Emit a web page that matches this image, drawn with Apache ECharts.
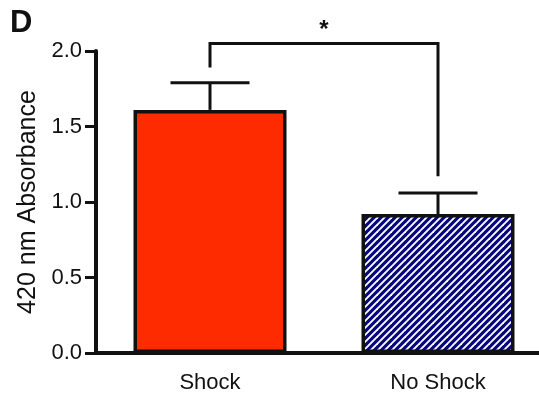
<!DOCTYPE html>
<html>
<head>
<meta charset="utf-8">
<script src="https://cdn.jsdelivr.net/npm/echarts@6/dist/echarts.min.js"></script>
<style>
  html, body { margin: 0; padding: 0; background: #fff; }
  #chart { width: 539px; height: 402px; }
</style>
</head>
<body>
<div id="chart"></div>
<script>
// Group names and measured absorbance at 420 nm
const categories = ['Shock', 'No Shock'];
const means = [1.61, 0.92];
const errorTops = [1.79, 1.06];

// Significance bracket: top height and where each leg stops
const bracketTop = 2.05;
const bracketLegEnds = [1.89, 1.17];
const bracketLabel = '*';

const yTicks = [0, 0.5, 1.0, 1.5, 2.0];

const FONT = '"Liberation Sans", Arial, Helvetica, sans-serif';
const INK = '#111';

// Navy fill with thin white diagonal stripes
function hatchPattern() {
  const s = 14;
  const c = document.createElement('canvas');
  c.width = s; c.height = s;
  const g = c.getContext('2d');
  g.fillStyle = '#07077e';
  g.fillRect(0, 0, s, s);
  g.strokeStyle = '#ffffff';
  g.lineWidth = 1.9;
  const half = s / 2;
  for (let k = -2; k <= 2; k++) {
    g.beginPath();
    g.moveTo(k * half - 2, s + 2);
    g.lineTo(k * half + s + 2, -2);
    g.stroke();
  }
  return c;
}

const chart = echarts.init(document.getElementById('chart'), null, { renderer: 'canvas' });

const option = {
  animation: false,
  backgroundColor: '#ffffff',
  grid: {
    left: 96, top: 51, width: 456, height: 302,
    containLabel: false, outerBoundsMode: 'none'
  },
  graphic: [{
    type: 'text', left: 10, top: 8,
    style: { text: 'D', font: 'bold 31px ' + FONT, fill: INK }
  }],
  xAxis: {
    type: 'category',
    data: categories,
    axisLine: { lineStyle: { color: INK, width: 4 } },
    axisTick: { alignWithLabel: true, length: 11, lineStyle: { color: INK, width: 3 } },
    axisLabel: { fontSize: 22, fontFamily: FONT, color: INK, margin: 19 },
    splitLine: { show: false }
  },
  yAxis: {
    type: 'value',
    min: yTicks[0], max: yTicks[yTicks.length - 1], interval: 0.5,
    name: '420 nm Absorbance',
    nameLocation: 'middle',
    nameGap: 51,
    nameTextStyle: { fontSize: 25, fontFamily: FONT, color: INK },
    axisLine: { show: true, lineStyle: { color: INK, width: 4 } },
    axisTick: { show: true, length: 11, lineStyle: { color: INK, width: 3 } },
    axisLabel: {
      fontSize: 22, fontFamily: FONT, color: INK, margin: 14,
      formatter: v => v.toFixed(1)
    },
    splitLine: { show: false }
  },
  series: [
    {
      type: 'bar',
      barWidth: 153,
      z: 2,
      data: means.map((v, i) => ({
        value: v,
        itemStyle: i === 0
          ? { color: '#fe2a00', borderColor: INK, borderWidth: 3.5 }
          : { color: { image: hatchPattern(), repeat: 'repeat' }, borderColor: INK, borderWidth: 3.5 }
      }))
    },
    {
      // upper error bars
      type: 'custom',
      z: 1,
      data: means.map((v, i) => [i, v, errorTops[i]]),
      renderItem: function (params, api) {
        const base = api.coord([api.value(0), api.value(1)]);
        const top = api.coord([api.value(0), api.value(2)]);
        const capHalf = 39.5;
        const style = { stroke: INK, lineWidth: 3, fill: null };
        return {
          type: 'group',
          children: [
            { type: 'line', shape: { x1: base[0], y1: base[1], x2: top[0], y2: top[1] }, style },
            { type: 'line', shape: { x1: top[0] - capHalf, y1: top[1], x2: top[0] + capHalf, y2: top[1] }, style }
          ]
        };
      }
    },
    {
      // significance bracket between the two groups
      type: 'custom',
      z: 3,
      clip: false,
      data: [[0, 1, bracketTop, bracketLegEnds[0], bracketLegEnds[1]]],
      renderItem: function (params, api) {
        const a = api.coord([api.value(0), api.value(3)]);
        const aTop = api.coord([api.value(0), api.value(2)]);
        const bTop = api.coord([api.value(1), api.value(2)]);
        const b = api.coord([api.value(1), api.value(4)]);
        return {
          type: 'group',
          children: [
            {
              type: 'polyline',
              shape: { points: [a, aTop, bTop, b] },
              style: { stroke: INK, lineWidth: 3, fill: null }
            },
            {
              type: 'text',
              x: (aTop[0] + bTop[0]) / 2,
              y: aTop[1] - 13,
              style: {
                text: bracketLabel, font: 'bold 24px ' + FONT, fill: INK,
                align: 'center', verticalAlign: 'middle'
              }
            }
          ]
        };
      }
    }
  ]
};

chart.setOption(option);
</script>
</body>
</html>
